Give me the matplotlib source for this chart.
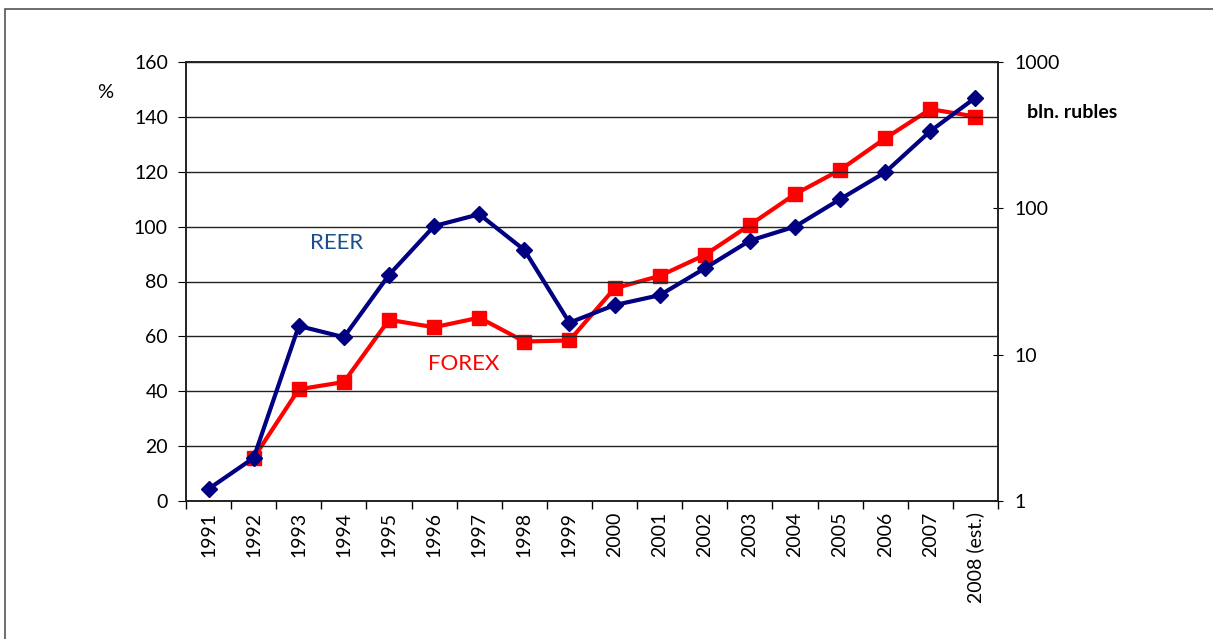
import matplotlib
matplotlib.use("Agg")
import matplotlib.pyplot as plt
from matplotlib.patches import Rectangle
from matplotlib.ticker import FixedLocator, NullLocator

plt.rcParams['font.family'] = ['Lato', 'DejaVu Sans']

years = ["1991", "1992", "1993", "1994", "1995", "1996", "1997", "1998", "1999",
         "2000", "2001", "2002", "2003", "2004", "2005", "2006", "2007", "2008 (est.)"]
reer = [4.4, 15.7, 63.8, 59.7, 82.4, 100.2, 104.5, 91.5, 65.0,
        71.4, 75.0, 84.8, 94.9, 100.0, 110.0, 119.8, 134.8, 147.0]
forex_years = years[1:]
forex = [1.97, 5.8, 6.5, 17.3, 15.4, 17.9, 12.3, 12.5,
         28.4, 34.5, 48, 77, 125, 183, 301, 476, 424]
left_ticks = [0, 20, 40, 60, 80, 100, 120, 140, 160]
right_ticks = [1, 10, 100, 1000]

W, H = 1213, 639
fig = plt.figure(figsize=(W / 100, H / 100), dpi=100)
fig.patches.append(Rectangle((5 / W, -0.1), (W + 10) / W, 1.1 - 9 / H, transform=fig.transFigure,
                             fill=False, edgecolor='#555555', linewidth=1.2))

ax = fig.add_axes([186 / W, 1 - 501 / H, (998 - 186) / W, (501 - 62) / H])
ax2 = ax.twinx()

x = list(range(len(years)))
xf = [years.index(y) for y in forex_years]

fs = 14
ax.set_xlim(-0.5, len(years) - 0.5)
ax.set_ylim(0, 160)
ax.set_yticks(left_ticks)
ax.yaxis.grid(True, color='#222222', linewidth=1.0)
ax.set_axisbelow(True)
ax.set_xticks(x)
ax.set_xticklabels(years, rotation=90, fontsize=fs)
ax.tick_params(axis='x', which='major', length=0, pad=8)
ax.xaxis.set_minor_locator(FixedLocator([i - 0.5 for i in range(len(years) + 1)]))
ax.tick_params(axis='x', which='minor', length=6, direction='out', width=1)
ax.tick_params(axis='y', length=6, direction='out', labelsize=fs, pad=7)
for s in ax.spines.values():
    s.set_color('#222222')
    s.set_linewidth(1.2)

ax2.set_yscale('log')
ax2.set_ylim(1, 1000)
ax2.set_yticks(right_ticks)
ax2.set_yticklabels([str(v) for v in right_ticks])
ax2.yaxis.set_minor_locator(NullLocator())
ax2.tick_params(axis='y', length=7, direction='inout', labelsize=fs, pad=8)
for s in ax2.spines.values():
    s.set_color('#222222')
    s.set_linewidth(1.2)

ax.plot(x, reer, color='#000080', linewidth=3, marker='D', markersize=8.5, zorder=4)
ax2.plot(xf, forex, color='#ff0000', linewidth=3, marker='s', markersize=10, zorder=3)
ax.set_zorder(ax2.get_zorder() + 1)
ax.patch.set_visible(False)

fig.text(105 / W, 1 - 93 / H, "%", fontsize=14.5, ha='center', va='center')
fig.text(1027 / W, 1 - 112 / H, "bln. rubles", fontsize=14, fontweight='bold',
         ha='left', va='center')
ax.text(2.85, 94, "REER", color='#1a4f8b', fontsize=16, ha='center', va='center')
ax.text(5.65, 50, "FOREX", color='#ff0000', fontsize=16, ha='center', va='center')

fig.savefig("out.png", dpi=100)
